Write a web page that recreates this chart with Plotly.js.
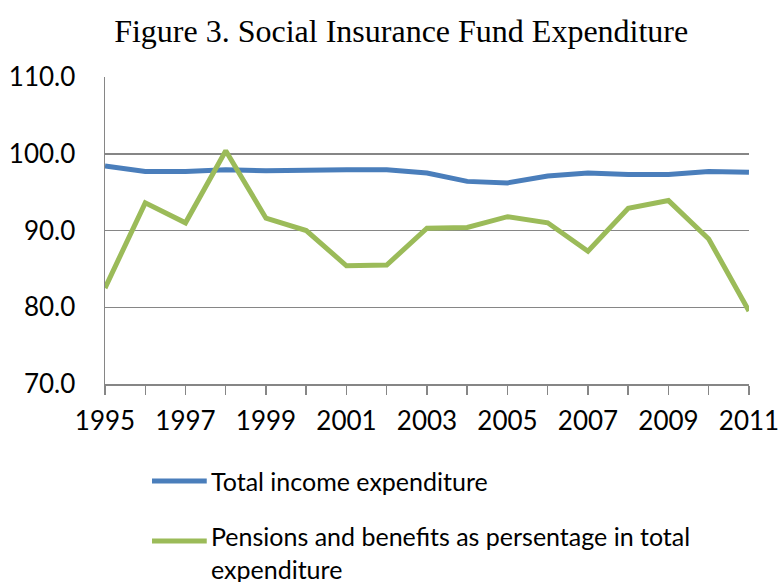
<!DOCTYPE html>
<html>
<head>
<meta charset="utf-8">
<script src="https://cdn.plot.ly/plotly-3.0.1.min.js"></script>
<style>html,body{margin:0;padding:0;background:#fff;}#chart{width:779px;height:582px;}</style>
</head>
<body>
<div id="chart"></div>
<script>
var years = [1995,1996,1997,1998,1999,2000,2001,2002,2003,2004,2005,2006,2007,2008,2009,2010,2011];
var totalIncomeExpenditure = [98.4,97.7,97.7,97.9,97.8,97.9,97.9,97.9,97.5,96.4,96.2,97.1,97.5,97.3,97.3,97.7,97.6];
var pensionsBenefits = [82.5,93.6,91.0,100.4,91.6,90.0,85.4,85.5,90.3,90.4,91.8,91.0,87.3,92.9,93.9,88.9,79.5];
var seriesNames = ["Total income expenditure", "Pensions and benefits as persentage in total<br>expenditure"];
var seriesColors = ["#4a7ebb", "#9bbb59"];
var yTicks = [70,80,90,100,110];
var yTickLabels = ["70.0","80.0","90.0","100.0","110.0"];
var xTickLabels = [1995,1997,1999,2001,2003,2005,2007,2009,2011];

var tickFont = {family: "Lato, 'Open Sans', sans-serif", size: 26, color: "#000"};
var legendFont = {family: "Lato, 'Open Sans', sans-serif", size: 25, color: "#000"};

var data = [
  {x: years, y: totalIncomeExpenditure, name: seriesNames[0], type: "scatter", mode: "lines",
   line: {color: seriesColors[0], width: 5}},
  {x: years, y: pensionsBenefits, name: seriesNames[1], type: "scatter", mode: "lines",
   line: {color: seriesColors[1], width: 5}}
];

// custom legend (wide line swatches like the reference)
var legendRowsY = [-0.316, -0.511];
var shapes = [], annotations = [];
for (var i = 0; i < seriesNames.length; i++) {
  shapes.push({type: "line", xref: "paper", yref: "paper", x0: 0.073, x1: 0.158,
               y0: legendRowsY[i], y1: legendRowsY[i],
               line: {color: seriesColors[i], width: 5}});
  annotations.push({xref: "paper", yref: "paper", x: 0.161, y: legendRowsY[i],
                    xanchor: "left", yanchor: i === 0 ? "middle" : "top",
                    yshift: i === 0 ? 0 : 22, align: "left", showarrow: false,
                    text: seriesNames[i], font: legendFont});
}

var layout = {
  width: 779, height: 582,
  margin: {l: 105, r: 30, t: 77, b: 198, autoexpand: false},
  paper_bgcolor: "#fff", plot_bgcolor: "#fff",
  title: {text: "Figure 3. Social Insurance Fund Expenditure",
          font: {family: "'Liberation Serif', 'Times New Roman', serif", size: 32, color: "#000"},
          x: 0.515, xanchor: "center", y: 0.947, yanchor: "middle"},
  xaxis: {
    range: [1995, 2011.001], tickmode: "array",
    tickvals: years,
    ticktext: years.map(function(y){ return xTickLabels.indexOf(y) >= 0 ? String(y) : ""; }),
    ticks: "outside", ticklen: 9, tickwidth: 1.5, tickcolor: "#868686",
    showline: true, linecolor: "#868686", linewidth: 1.5,
    showgrid: false, zeroline: false, tickfont: tickFont, tickangle: 0, automargin: false,
    ticklabeloverflow: "allow", ticklabelstandoff: 4
  },
  yaxis: {
    range: [70, 110], tickmode: "array", tickvals: yTicks, ticktext: yTickLabels,
    showgrid: true, gridcolor: "#868686", gridwidth: 1.5,
    showline: true, linecolor: "#868686", linewidth: 1.5,
    ticks: "", zeroline: false, tickfont: tickFont, ticklabelstandoff: 23, automargin: false
  },
  showlegend: false,
  shapes: shapes,
  annotations: annotations
};

Plotly.newPlot("chart", data, layout, {displayModeBar: false, staticPlot: true});
</script>
</body>
</html>
